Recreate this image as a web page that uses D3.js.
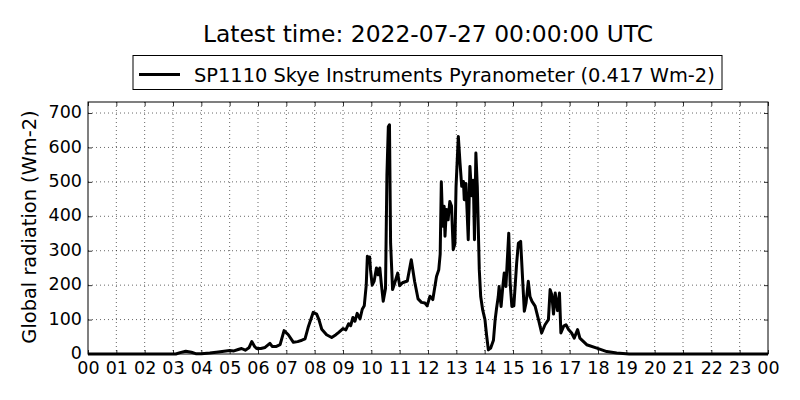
<!DOCTYPE html>
<html><head><meta charset="utf-8">
<script src="https://cdn.jsdelivr.net/npm/d3@7"></script>
<style>body{margin:0;background:#fff}svg{display:block}text{font-family:"DejaVu Sans",sans-serif;fill:#000}</style>
</head><body><svg id="c" width="800" height="400"></svg>
<script>
const titleText = "Latest time: 2022-07-27 00:00:00 UTC";
const seriesName = "SP1110 Skye Instruments Pyranometer (0.417 Wm-2)";
const yLabel = "Global radiation (Wm-2)";
const hourTicks = d3.range(0, 25);
const hourLabels = hourTicks.map(h => String(h % 24).padStart(2, "0"));
const yTicks = [0, 100, 200, 300, 400, 500, 600, 700];
const hours = [0,3.1,3.25,3.45,3.65,3.8,4.0,4.3,4.6,4.8,5.0,5.15,5.3,5.42,5.55,5.68,5.78,5.88,5.95,6.1,6.25,6.42,6.5,6.65,6.78,6.92,7.07,7.25,7.4,7.55,7.66,7.78,7.95,8.07,8.15,8.25,8.42,8.6,8.75,8.85,9.0,9.1,9.2,9.27,9.35,9.42,9.5,9.6,9.68,9.75,9.82,9.86,9.9,9.94,9.97,10.03,10.1,10.18,10.24,10.3,10.35,10.42,10.5,10.55,10.6,10.64,10.68,10.75,10.82,10.93,11.0,11.1,11.27,11.41,11.53,11.65,11.77,11.89,11.97,12.07,12.17,12.3,12.38,12.43,12.47,12.52,12.57,12.6,12.65,12.71,12.77,12.83,12.89,12.95,12.99,13.07,13.13,13.19,13.25,13.28,13.34,13.42,13.48,13.54,13.6,13.64,13.69,13.74,13.81,13.86,13.93,14.01,14.07,14.13,14.21,14.31,14.37,14.42,14.48,14.51,14.58,14.64,14.69,14.75,14.8,14.85,14.9,14.96,15.03,15.13,15.19,15.27,15.34,15.4,15.46,15.54,15.6,15.67,15.78,15.9,16.01,16.13,16.25,16.31,16.37,16.43,16.49,16.57,16.64,16.69,16.79,16.87,16.96,17.07,17.16,17.28,17.36,17.6,17.96,18.31,18.66,19.1,24];
const radiation = [0,0,4,8,5,1,1,3,6,8,10,9,13,16,11,18,36,22,16,16,19,31,22,22,27,68,56,34,36,40,44,80,121,116,100,72,56,48,56,63,74,70,88,82,106,95,118,102,130,140,200,284,270,282,245,200,212,250,230,250,206,153,190,520,660,666,322,187,205,235,198,207,212,274,210,160,150,148,140,168,158,225,245,290,500,371,429,342,420,390,443,430,303,320,487,632,555,487,501,448,495,332,545,460,505,332,584,487,245,167,128,100,53,12,17,40,100,133,167,196,138,196,235,196,274,351,206,138,140,265,322,327,216,124,148,211,167,153,139,100,61,85,100,187,172,116,177,126,177,61,81,85,71,61,46,71,46,27,17,7,3,0,0];

const L = 88, R = 768, T = 102, B = 354;
const svg = d3.select("#c");
const x = d3.scaleLinear().domain([0, 24]).range([L, R]);
const y = d3.scaleLinear().domain([0, 732]).range([B, T]);

// grid
const g = svg.append("g");
g.selectAll(".vg").data(hourTicks.slice(1, -1)).enter().append("line")
  .attr("x1", d => x(d)).attr("x2", d => x(d)).attr("y1", T).attr("y2", B)
  .attr("stroke", "#000").attr("stroke-width", 0.6).attr("stroke-dasharray", "1,3");
g.selectAll(".hg").data(yTicks.slice(1)).enter().append("line")
  .attr("x1", L).attr("x2", R).attr("y1", d => y(d)).attr("y2", d => y(d))
  .attr("stroke", "#000").attr("stroke-width", 0.6).attr("stroke-dasharray", "1,3");

// axes via d3 axes (inward ticks)
const xAxis = svg.append("g").attr("transform", `translate(0,${B})`)
  .call(d3.axisBottom(x).tickValues(hourTicks).tickFormat((d, i) => hourLabels[i]).tickSizeInner(-4).tickSizeOuter(0).tickPadding(8));
const yAxis = svg.append("g").attr("transform", `translate(${L},0)`)
  .call(d3.axisLeft(y).tickValues(yTicks).tickFormat(d3.format("d")).tickSizeInner(-4).tickSizeOuter(0).tickPadding(6));
svg.append("g").attr("transform", `translate(0,${T})`)
  .call(d3.axisTop(x).tickValues(hourTicks).tickFormat("").tickSizeInner(-4).tickSizeOuter(0));
svg.append("g").attr("transform", `translate(${R},0)`)
  .call(d3.axisRight(y).tickValues(yTicks).tickFormat("").tickSizeInner(-4).tickSizeOuter(0));
svg.selectAll(".domain").remove();
svg.selectAll(".tick line").attr("stroke", "#000").attr("stroke-width", 0.8);
xAxis.selectAll("text").attr("font-size", "17.5px").attr("font-family", "DejaVu Sans");
yAxis.selectAll("text").attr("font-size", "17.5px").attr("font-family", "DejaVu Sans").attr("dy", "0.26em");

// data line
const pts = hours.map((h, i) => [h, radiation[i]]);
svg.append("path").datum(pts)
  .attr("d", d3.line().x(d => x(d[0])).y(d => y(d[1])))
  .attr("fill", "none").attr("stroke", "#000").attr("stroke-width", 3).attr("stroke-linejoin", "round");

// frame
svg.append("rect").attr("x", L).attr("y", T).attr("width", R - L).attr("height", B - T)
  .attr("fill", "none").attr("stroke", "#000").attr("stroke-width", 1);

// title
svg.append("text").attr("x", 428).attr("y", 42).attr("text-anchor", "middle")
  .attr("font-size", "23.4px").text(titleText);

// legend
svg.append("rect").attr("x", 133).attr("y", 55.5).attr("width", 589).attr("height", 34)
  .attr("fill", "#fff").attr("stroke", "#000").attr("stroke-width", 1);
svg.append("line").attr("x1", 139).attr("x2", 180).attr("y1", 74.5).attr("y2", 74.5)
  .attr("stroke", "#000").attr("stroke-width", 3);
svg.append("text").attr("x", 194).attr("y", 81.5).attr("font-size", "19.4px").text(seriesName);

// y label
svg.append("text").attr("transform", `translate(36,${(T + B) / 2 - 1}) rotate(-90)`)
  .attr("text-anchor", "middle").attr("font-size", "19.4px").text(yLabel);
</script></body></html>
